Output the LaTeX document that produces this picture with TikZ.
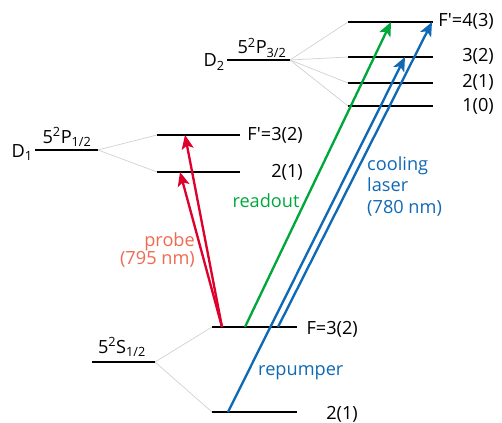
\documentclass[tikz,border=0pt]{standalone}
\usepackage{fontspec}
\setmainfont{Open Sans}
\usetikzlibrary{arrows.meta}
\definecolor{probered}{RGB}{222,0,45}
\definecolor{probetext}{RGB}{240,105,80}
\definecolor{readgreen}{RGB}{0,168,60}
\definecolor{coolblue}{RGB}{16,105,180}
\begin{document}
\begin{tikzpicture}[x=0.03cm, y=-0.03cm,
    level/.style={line width=2.4pt},
    fan/.style={draw=black!18, line width=0.6pt},
    beam/.style={-{Stealth[length=0.42cm, width=0.36cm, inset=0.1cm]}, line width=2pt},
    lbl/.style={inner sep=0pt, font=\fontsize{15.5}{19}\selectfont}
  ]
  \useasboundingbox (0,0) rectangle (502,423);

  % 5S1/2 and its hyperfine levels
  \coordinate (sL) at (92,362);   \coordinate (sR) at (155,362);
  \coordinate (g3L) at (212,327); \coordinate (g3R) at (297,327);
  \coordinate (g2L) at (212,412); \coordinate (g2R) at (297,412);
  % 5P1/2
  \coordinate (pL) at (35,150);   \coordinate (pR) at (98,150);
  \coordinate (e3L) at (157,135); \coordinate (e3R) at (240,135);
  \coordinate (e2L) at (157,172); \coordinate (e2R) at (240,172);
  % 5P3/2
  \coordinate (qL) at (227,60);   \coordinate (qR) at (290,60);
  \foreach \n/\y in {f4/22, f3/57, f2/83, f1/106}{
    \coordinate (\n L) at (348,\y); \coordinate (\n R) at (433,\y);
  }

  % splitting fans
  \foreach \a/\b in {sR/g3L, sR/g2L, pR/e3L, pR/e2L, qR/f4L, qR/f3L, qR/f2L, qR/f1L}
    \draw[fan] (\a) -- (\b);

  % levels
  \foreach \n in {s, g3, g2, p, e3, e2, q, f4, f3, f2, f1}
    \draw[level] (\n L) -- (\n R);

  % level names
  \node[lbl, anchor=base] (sname) at (122,353) {5\textsuperscript{2}S\textsubscript{1/2}};
  \node[lbl, anchor=base] (pname) at (67,143) {5\textsuperscript{2}P\textsubscript{1/2}};
  \node[lbl, anchor=base east] (done) at (33,157) {D\textsubscript{1}};
  \node[lbl, anchor=base] (qname) at (262,54) {5\textsuperscript{2}P\textsubscript{3/2}};
  \node[lbl, anchor=base east] (dtwo) at (225,67) {D\textsubscript{2}};

  \node[lbl, anchor=base east] (lf4) at (494,27) {F\textquotesingle=4(3)};
  \node[lbl, anchor=base east] (lf3) at (494,62) {3(2)};
  \node[lbl, anchor=base east] (lf2) at (494,88) {2(1)};
  \node[lbl, anchor=base east] (lf1) at (494,111) {1(0)};
  \node[lbl, anchor=base east] (le3) at (303,140) {F\textquotesingle=3(2)};
  \node[lbl, anchor=base east] (le2) at (303,177) {2(1)};
  \node[lbl, anchor=base east] (lg3) at (358,334) {F=3(2)};
  \node[lbl, anchor=base east] (lg2) at (358,419) {2(1)};

  % laser beams
  \coordinate (pa) at (222,327);  \coordinate (pt3) at (185,135); \coordinate (pt2) at (180,172);
  \coordinate (ga) at (245,327);  \coordinate (gt) at (391,22);
  \coordinate (ca) at (278,327);  \coordinate (ct) at (432,22);
  \coordinate (ra) at (228,412);  \coordinate (rt) at (405,57);
  \draw[beam, probered] (pa) -- (pt3);
  \draw[beam, probered] (pa) -- (pt2);
  \draw[beam, readgreen] (ga) -- (gt);
  \draw[beam, coolblue] (ca) -- (ct);
  \draw[beam, coolblue] (ra) -- (rt);

  \node[lbl, readgreen, anchor=base] (readout) at (266,207) {readout};
  \node[lbl, coolblue, anchor=north west, align=left, font=\fontsize{15.5}{18.7}\selectfont] (cooling) at (367,156) {cooling\\laser\\(780 nm)};
  \node[lbl, probetext, anchor=north east, align=right, font=\fontsize{15.5}{15.6}\selectfont] (probe) at (195,232) {probe\\(795 nm)};
  \node[lbl, coolblue, anchor=base west] (repump) at (258,375) {repumper};
\end{tikzpicture}
\end{document}
